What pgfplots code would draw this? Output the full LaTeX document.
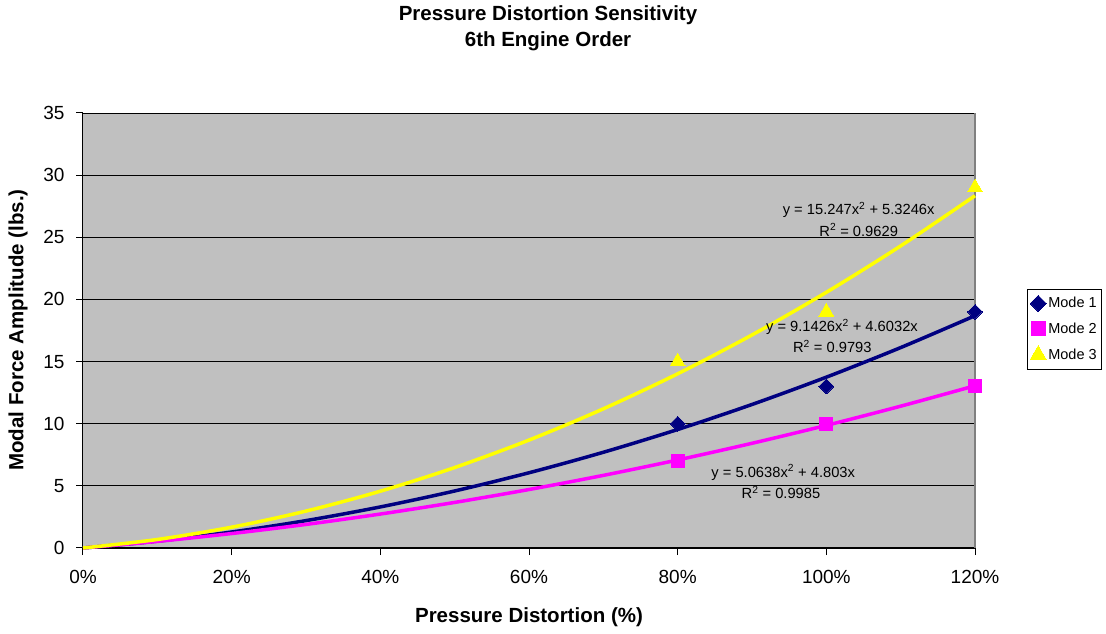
\documentclass[border=0pt]{standalone}
\usepackage{pgfplots}
\pgfplotsset{compat=1.18}
\usepackage{fontspec}
\setmainfont{Liberation Sans}
\definecolor{plotbg}{HTML}{C0C0C0}
\definecolor{mnavy}{HTML}{000080}
\definecolor{mmag}{HTML}{FF00FF}
\definecolor{myel}{HTML}{FFFF00}
\begin{document}
\begin{tikzpicture}[x=1pt,y=1pt]
\useasboundingbox (-83,-86) rectangle (1023,548);
\begin{axis}[
  at={(0,0)}, anchor=origin,
  scale only axis, width=892pt, height=435pt,
  xmin=0, xmax=1.2, ymin=0, ymax=35,
  xtick={0,0.2,0.4,0.6,0.8,1.0,1.2},
  xticklabels={0\%,20\%,40\%,60\%,80\%,100\%,120\%},
  ytick={0,5,10,15,20,25,30,35},
  axis x line*=bottom, axis y line*=left,
  axis line style={black, line width=1pt},
  tick align=outside,
  major tick length=7pt,
  tick style={black, line width=1pt},
  ymajorgrids, grid style={black, line width=0.9pt},
  axis background/.style={fill=plotbg},
  /pgf/number format/assume math mode=true,
  tick label style={font=\fontsize{19}{21}\selectfont},
  xticklabel style={yshift=-12pt},
  yticklabel style={xshift=-8pt},
  clip=false,
  legend style={at={(rel axis cs:1.058,0.5954)}, anchor=north west,
    draw=black, line width=0.8pt, fill=white, font=\fontsize{14.5}{16}\selectfont,
    row sep=9pt, inner xsep=3pt, inner ysep=6pt},
  legend cell align=left,
  legend image post style={scale=1.1},
]
% plot area border (right side gray)
\draw[color=gray, line width=1.5pt] (rel axis cs:1,0) -- (rel axis cs:1,1);
% trendlines
\addplot[mnavy, line width=3.5pt, smooth, forget plot] coordinates {
(0,0) (0.1,0.55175) (0.2,1.28634) (0.3,2.20379) (0.4,3.30410) (0.5,4.58725) (0.6,6.05326)
(0.7,7.70211) (0.8,9.53382) (0.9,11.54839) (1.0,13.7458) (1.1,16.12607) (1.2,18.68918)};
\addplot[mmag, line width=3.5pt, smooth, forget plot] coordinates {
(0,0) (0.1,0.53094) (0.2,1.16315) (0.3,1.89664) (0.4,2.73141) (0.5,3.66745) (0.6,4.70477)
(0.7,5.84336) (0.8,7.08323) (0.9,8.42438) (1.0,9.8668) (1.1,11.41050) (1.2,13.05547)};
\addplot[myel, line width=3.5pt, smooth, forget plot] coordinates {
(0,0) (0.1,0.68493) (0.2,1.67480) (0.3,2.96961) (0.4,4.56936) (0.5,6.47405) (0.6,8.68368)
(0.7,11.19825) (0.8,14.01776) (0.9,17.14221) (1.0,20.5716) (1.1,24.30593) (1.2,28.34520)};
% data
\addplot[only marks, mark=square*, mark size=5.2pt, mnavy, mark options={fill=mnavy, rotate=45, line width=0pt}] coordinates {(0.8,10) (1.0,13) (1.2,19)};
\addlegendentry{Mode 1}
\addplot[only marks, mark=square*, mark size=6.5pt, mmag, mark options={fill=mmag, line width=0pt}] coordinates {(0.8,7) (1.0,10) (1.2,13)};
\addlegendentry{Mode 2}
\addplot[only marks, mark=triangle*, mark size=8.5pt, myel, mark options={fill=myel, line width=0pt}] coordinates {(0.8,15) (1.0,19) (1.2,29)};
\addlegendentry{Mode 3}
% equations
\begin{scope}[every node/.style={font=\fontsize{14.7}{16}\selectfont, inner sep=0pt, anchor=base}]
\node at (axis cs:1.0435,26.8) {y = 15.247x\textsuperscript{2} + 5.3246x};
\node at (axis cs:1.0435,25.1) {R\textsuperscript{2} = 0.9629};
\node at (axis cs:1.021,17.38) {y = 9.1426x\textsuperscript{2} + 4.6032x};
\node at (axis cs:1.008,15.69) {R\textsuperscript{2} = 0.9793};
\node at (axis cs:0.942,5.7) {y = 5.0638x\textsuperscript{2} + 4.803x};
\node at (axis cs:0.939,3.95) {R\textsuperscript{2} = 0.9985};
\end{scope}
\end{axis}
\node[font=\fontsize{20.5}{24}\selectfont\bfseries, anchor=base] at (465,527) {Pressure Distortion Sensitivity};
\node[font=\fontsize{20.5}{24}\selectfont\bfseries, anchor=base] at (465,501) {6th Engine Order};
\node[font=\fontsize{20.5}{24}\selectfont\bfseries, anchor=base] at (446,-75) {Pressure Distortion (\%)};
\node[font=\fontsize{20.5}{24}\selectfont\bfseries, rotate=90] at (-65,218) {Modal Force Amplitude (lbs.)};
\end{tikzpicture}
\end{document}
